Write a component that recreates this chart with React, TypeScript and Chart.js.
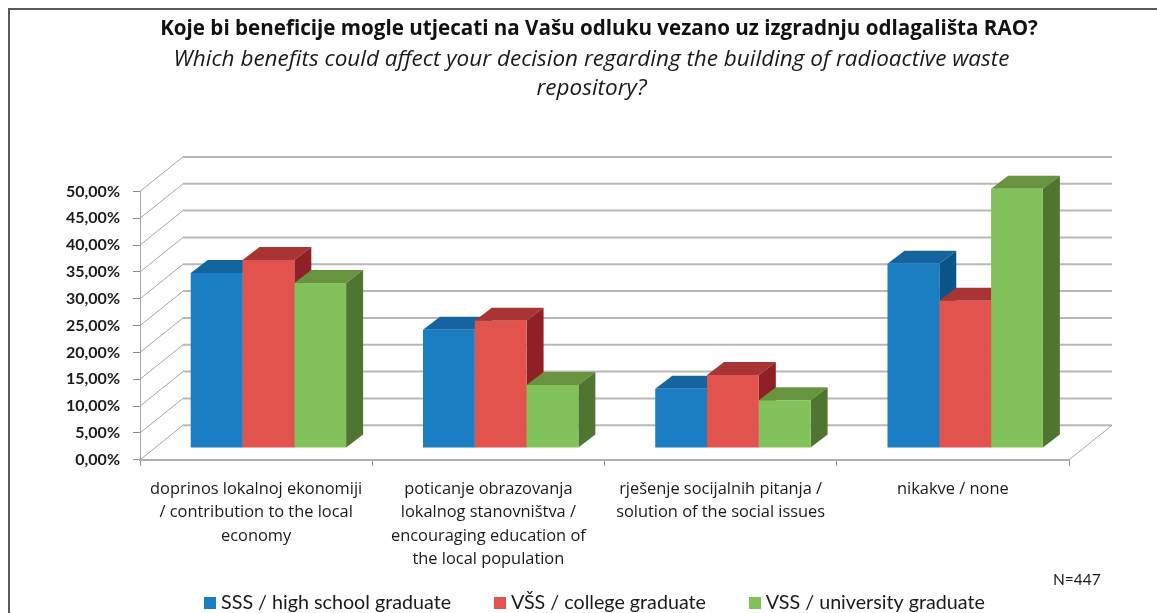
import React, { useEffect, useRef } from "react";
import { Chart, registerables } from "chart.js";

Chart.register(...registerables);

const categories = [
  ["doprinos lokalnoj ekonomiji", "/ contribution to the local", "economy"],
  ["poticanje obrazovanja", "lokalnog stanovništva /", "encouraging education of", "the local population"],
  ["rješenje socijalnih pitanja /", "solution of the social issues"],
  ["nikakve / none"],
];
const seriesNames = ["SSS / high school graduate", "VŠS / college graduate", "VSS / university graduate"];
const sss = [32.6, 22.0, 11.0, 34.3];
const vss2 = [35.0, 23.7, 13.6, 27.4];
const vss3 = [30.7, 11.7, 8.9, 48.3];
const frontColors = ["#1b7ec2", "#e2534d", "#82c25b"];
const topColors = ["#14659f", "#a83434", "#69943f"];
const sideColors = ["#0b5488", "#8f2126", "#507530"];
const titleText = "Koje bi beneficije mogle utjecati na Vašu odluku vezano uz izgradnju odlagališta RAO?";
const subtitleLines = ["Which benefits could affect your decision regarding the building of radioactive waste", "repository?"];
const noteText = "N=447";

const FONT = "Lato, 'Open Sans', sans-serif";
const WIDE_FONT = "'Open Sans', Lato, sans-serif";
const WALL_DX = 43, WALL_DY = -34.5;
const BAR_DX = 12.3, BAR_DY = -11.9;
const DEPTH_DX = 17, DEPTH_DY = -13;

const poly = (ctx: CanvasRenderingContext2D, pts: number[][], fill: string) => {
  ctx.beginPath();
  pts.forEach(([x, y], i) => (i ? ctx.lineTo(x, y) : ctx.moveTo(x, y)));
  ctx.closePath();
  ctx.fillStyle = fill;
  ctx.fill();
};

const makeSwatch = (color: string) => {
  const c = document.createElement("canvas");
  c.width = 12;
  c.height = 12;
  const g = c.getContext("2d")!;
  g.fillStyle = color;
  g.fillRect(0, 0, 12, 12);
  return c;
};

const scene3d = {
  id: "scene3d",
  afterLayout(chart: any) {
    const setBox = (b: any, left: number, right: number) => { b.left = left; b.right = right; };
    chart.boxes.forEach((b: any) => {
      if (b === chart.titleBlock) setBox(b, 41, 1157);
      else if (b === chart.legend) { setBox(b, 37, 1157); b.top = 545; b.bottom = 661; }
      else if (b.options && b.options.text === subtitleLines) setBox(b, 26, 1157);
    });
    chart.scales.x.bottom = 613;
  },
  beforeDraw(chart: any) {
    const { ctx } = chart;
    ctx.save();
    ctx.strokeStyle = "#5a5a5a";
    ctx.lineWidth = 2;
    ctx.strokeRect(9, 9, 1300, 700);
    ctx.restore();
  },
  beforeDatasetsDraw(chart: any) {
    const { ctx, scales, chartArea } = chart;
    const y = scales.y;
    ctx.save();
    y.ticks.forEach((t: any) => {
      const py = y.getPixelForValue(t.value);
      ctx.strokeStyle = "#a6a6a6";
      ctx.lineWidth = 1;
      ctx.beginPath();
      ctx.moveTo(chartArea.left, py);
      ctx.lineTo(chartArea.left + WALL_DX, py + WALL_DY);
      ctx.stroke();
      ctx.strokeStyle = "#b8b8b8";
      ctx.lineWidth = 2;
      ctx.beginPath();
      ctx.moveTo(chartArea.left + WALL_DX, py + WALL_DY);
      ctx.lineTo(chartArea.right + WALL_DX, py + WALL_DY);
      ctx.stroke();
    });
    ctx.strokeStyle = "#a6a6a6";
    ctx.lineWidth = 1;
    ctx.beginPath();
    ctx.moveTo(chartArea.right, chartArea.bottom);
    ctx.lineTo(chartArea.right + WALL_DX, chartArea.bottom + WALL_DY);
    ctx.stroke();
    ctx.restore();

    ctx.save();
    ctx.translate(BAR_DX, BAR_DY);
    chart.data.datasets.forEach((_: any, i: number) => {
      chart.getDatasetMeta(i).data.forEach((bar: any) => {
        const l = bar.x - bar.width / 2, r = bar.x + bar.width / 2;
        poly(ctx, [[l, bar.y], [r, bar.y], [r + DEPTH_DX, bar.y + DEPTH_DY], [l + DEPTH_DX, bar.y + DEPTH_DY]], topColors[i]);
        poly(ctx, [[r, bar.y], [r + DEPTH_DX, bar.y + DEPTH_DY], [r + DEPTH_DX, bar.base + DEPTH_DY], [r, bar.base]], sideColors[i]);
      });
    });
  },
  afterDatasetsDraw(chart: any) {
    chart.ctx.restore();
  },
  afterDraw(chart: any) {
    const { ctx } = chart;
    ctx.save();
    ctx.fillStyle = "#1a1a1a";
    ctx.font = `15.5px ${FONT}`;
    ctx.textAlign = "left";
    ctx.textBaseline = "middle";
    ctx.fillText(noteText, 1053, 580);
    ctx.restore();
  },
};

export default function App() {
  const ref = useRef<HTMLCanvasElement>(null);
  useEffect(() => {
    document.body.style.margin = "0";
    document.body.style.background = "#fff";
    const swatches = frontColors.map(makeSwatch);
    const chart = new Chart(ref.current!, {
      type: "bar",
      data: {
        labels: categories as any,
        datasets: [sss, vss2, vss3].map((data, i) => ({
          label: seriesNames[i],
          data,
          backgroundColor: frontColors[i],
          barPercentage: 1,
          categoryPercentage: 0.669,
          clip: false as any,
        })),
      },
      options: {
        responsive: false,
        animation: false,
        layout: { padding: { right: 88, left: 0, top: 0, bottom: 0 } },
        plugins: {
          tooltip: { enabled: false },
          title: {
            display: true,
            text: titleText,
            color: "#111",
            font: { family: WIDE_FONT, size: 20.6, weight: "bold", lineHeight: 1.2 },
            padding: { top: 17, bottom: 4 },
          },
          subtitle: {
            display: true,
            text: subtitleLines,
            color: "#1a1a1a",
            font: { family: WIDE_FONT, size: 22.5, style: "italic", weight: "normal", lineHeight: 1.26 },
            padding: { top: 0, bottom: 89 },
          },
          legend: {
            position: "bottom",
            labels: {
              color: "#1a1a1a",
              font: { family: FONT, size: 19.7 },
              usePointStyle: true,
              pointStyleWidth: 2,
              boxHeight: 12,
              padding: 48,
              generateLabels: (c: any) =>
                (Chart.defaults.plugins.legend.labels as any).generateLabels(c).map((it: any, i: number) => ({
                  ...it,
                  pointStyle: swatches[i],
                })),
            },
          },
        },
        scales: {
          x: {
            grid: { drawOnChartArea: false, color: "#8c8c8c", tickLength: 6, offset: true },
            border: { color: "#b0b0b0", width: 2 },
            ticks: {
              color: "#1a1a1a",
              autoSkip: false,
              maxRotation: 0,
              padding: 11.5,
              font: { family: WIDE_FONT, size: 16.4, lineHeight: 1.43 },
            },
            afterFit: (s: any) => { s.height = 75.5; },
          },
          y: {
            min: 0,
            max: 50,
            grid: { drawOnChartArea: false, color: "#8c8c8c", tickLength: 7 },
            border: { color: "#a6a6a6", width: 1 },
            ticks: {
              stepSize: 5,
              color: "#1a1a1a",
              padding: 13,
              font: { family: FONT, size: 16, weight: "bold" },
              callback: (v: any) => Number(v).toFixed(2).replace(".", ",") + "%",
            },
            afterFit: (s: any) => { s.width = 140; },
          },
        },
      },
      plugins: [scene3d],
    });
    return () => chart.destroy();
  }, []);
  return <canvas ref={ref} width={1157} height={613} style={{ display: "block", filter: "blur(0.4px)" }} />;
}
